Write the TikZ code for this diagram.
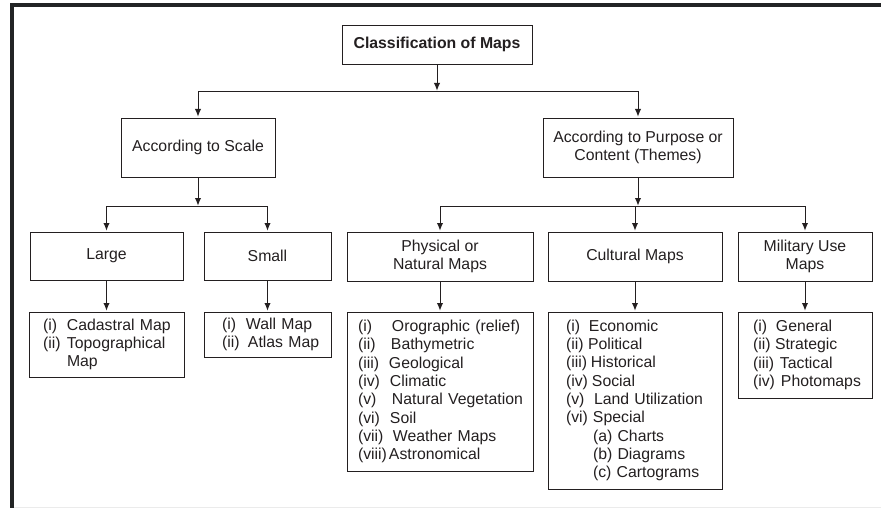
\documentclass[tikz,border=0pt]{standalone}
\usepackage{fontspec}
\setmainfont{Liberation Sans}
\usetikzlibrary{arrows.meta}
\definecolor{ink}{HTML}{231F20}
\definecolor{frame}{HTML}{222425}
\newcommand{\itm}[3][24pt]{\mbox{\makebox[#1][l]{#2}#3}}

\begin{document}
\begin{tikzpicture}[x=1pt, y=-1pt, color=ink]
\tikzset{ >={Latex[length=8pt,width=6.5pt]}, line width=2pt,
  box/.style={draw, inner sep=0pt, align=center, font=\fontsize{15.8}{18.3}\selectfont},
  leaf/.style={draw, anchor=north, align=left, font=\fontsize{15.8}{18.3}\selectfont},
}
\useasboundingbox (0,0) rectangle (881,508);
%\draw [gray!30, step=50] (0,0) grid (881,508);

% frame
\draw [frame, line width=4pt] (881,5) -- (12,5) -- (12,508);
\draw [black!8, line width=1pt] (14,507) -- (881,507);

\node [box, minimum width=190, minimum height=39, font=\fontsize{15.8}{18.3}\selectfont\bfseries] (CM) at (437,44.5) {Classification of Maps};

\node [box, minimum width=154, minimum height=59] (SC) at (198,147.5) {According to Scale};
\node [box, minimum width=190, minimum height=59] (PC) at (638,147.5) {According to Purpose or\\Content (Themes)};

\node [box, minimum width=153, minimum height=48] (LG) at (106.5,256) {Large};
\node [box, minimum width=127, minimum height=48] (SM) at (267.5,256) {Small};
\node [box, minimum width=186, minimum height=49] (PN) at (440,256.5) {Physical or\\Natural Maps};
\node [box, minimum width=174, minimum height=49] (CU) at (635,256.5) {Cultural Maps};
\node [box, minimum width=134, minimum height=49] (MI) at (805,256.5) {Military Use\\Maps};

\node [leaf, inner xsep=14, text width=127, minimum height=65] (LGL) at (106.5,311)
  {\itm{(i)}{Cadastral Map}\\\itm{(ii)}{Topographical}\\\hspace*{24pt}Map};
\node [leaf, inner xsep=18, text width=91, minimum height=45] (SML) at (267.5,311)
  {\itm{(i)}{Wall Map}\\\itm[26pt]{(ii)}{Atlas Map}};
\node [leaf, inner xsep=11, text width=164, minimum height=159] (PNL) at (440,311)
  {\itm[34pt]{(i)}{Orographic (relief)}\\\itm[33pt]{(ii)}{Bathymetric}\\
   \itm[31pt]{(iii)}{Geological}\\\itm[32pt]{(iv)}{Climatic}\\
   \itm[34pt]{(v)}{Natural Vegetation}\\\itm[32pt]{(vi)}{Soil}\\
   \itm[35pt]{(vii)}{Weather Maps}\\\itm[31pt]{(viii)}{Astronomical}};
\node [leaf, inner xsep=18, text width=138, minimum height=177] (CUL) at (635,311)
  {\itm[23pt]{(i)}{Economic}\\\itm[22pt]{(ii)}{Political}\\
   \itm[25pt]{(iii)}{Historical}\\\itm[26pt]{(iv)}{Social}\\
   \itm[28pt]{(v)}{Land Utilization}\\\itm[27pt]{(vi)}{Special}\\
   \hspace*{27pt}(a) Charts\\\hspace*{27pt}(b) Diagrams\\\hspace*{27pt}(c) Cartograms};
\node [leaf, inner xsep=15, text width=104, minimum height=86] (MIL) at (805,311)
  {\itm[23pt]{(i)}{General}\\\itm[22pt]{(ii)}{Strategic}\\
   \itm[27pt]{(iii)}{Tactical}\\\itm[28pt]{(iv)}{Photomaps}};

\coordinate (J1) at (437,91);
\coordinate (J2) at (198,206);
\coordinate (J3) at (638,206);

\draw [->] (CM) -- (J1);
\draw [->] (J1) -| (SC);
\draw [->] (J1) -| (PC);

\draw [->] (SC) -- (J2);
\draw [->] (J2) -| (LG);
\draw [->] (J2) -| (SM);

\draw [->] (PC) -- (J3);
\draw [->] (J3) -| (PN);
\draw [->] (J3) -| (CU);
\draw [->] (J3) -| (MI);

\draw [->] (LG) -- (LGL);
\draw [->] (SM) -- (SML);
\draw [->] (PN) -- (PNL);
\draw [->] (CU) -- (CUL);
\draw [->] (MI) -- (MIL);

\end{tikzpicture}
\end{document}
